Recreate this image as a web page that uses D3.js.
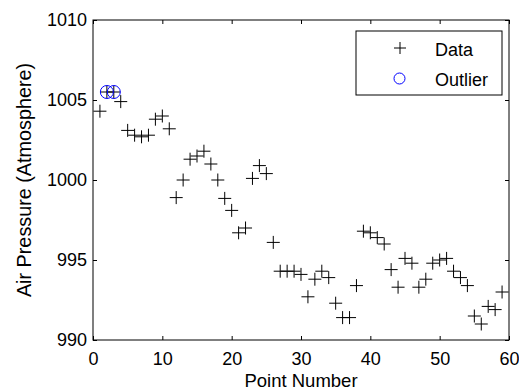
<!DOCTYPE html>
<html>
<head>
<meta charset="utf-8">
<script src="https://cdn.jsdelivr.net/npm/d3@7"></script>
<style>
  body { margin: 0; background: #fff; }
  svg { display: block; font-family: 'Liberation Sans', Arial, sans-serif; }
</style>
</head>
<body>
<svg id="chart"></svg>
<script>
// point numbers and readings
let pointNumbers = d3.range(1, 60)
let pressure = [
  1004.3, 1005.5, 1005.5, 1004.9, 1003.1, 1002.8, 1002.7, 1002.8, 1003.8, 1004.0,
  1003.2, 998.9, 1000.0, 1001.3, 1001.5, 1001.8, 1001.0, 1000.0, 998.85, 998.1,
  996.7, 997.0, 1000.1, 1000.9, 1000.4, 996.1, 994.3, 994.3, 994.3, 994.1,
  992.7, 993.8, 994.3, 993.9, 992.3, 991.4, 991.4, 993.4, 996.8, 996.7,
  996.4, 996.0, 994.4, 993.3, 995.1, 994.8, 993.3, 993.8, 994.8, 995.0,
  995.1, 994.3, 993.9, 993.4, 991.5, 991.0, 992.1, 991.9, 993.0
]
let outlierNumbers = [2, 3]
let outlierValues = [1005.5, 1005.5]
let xTicks = [0, 10, 20, 30, 40, 50, 60]
let yTicks = [990, 995, 1000, 1005, 1010]
let legendLabels = ['Data', 'Outlier']

let W = 519, H = 391
let margin = { top: 20, right: 10, bottom: 51, left: 93 }
let width = W - margin.left - margin.right
let height = H - margin.top - margin.bottom

let svg = d3.select('#chart').attr('width', W).attr('height', H)
let chart = svg.append('g')
  .attr('transform', 'translate(' + margin.left + ',' + margin.top + ')')

let x = d3.scaleLinear().domain([0, 60]).range([0, width])
let y = d3.scaleLinear().domain([990, 1010]).range([height, 0])
let fmt = d3.format('d')

// axes, ticks pointing inward like matlab
let tick = 4
chart.append('g').attr('class', 'axis')
  .attr('transform', 'translate(0,' + height + ')')
  .call(d3.axisBottom(x).tickValues(xTicks).tickSize(-tick).tickSizeOuter(0).tickPadding(12.5).tickFormat(fmt))
chart.append('g').attr('class', 'axis')
  .call(d3.axisTop(x).tickValues(xTicks).tickSize(-tick).tickSizeOuter(0).tickFormat(''))
chart.append('g').attr('class', 'axis')
  .call(d3.axisLeft(y).tickValues(yTicks).tickSize(-tick).tickSizeOuter(0).tickPadding(6).tickFormat(fmt))
chart.append('g').attr('class', 'axis')
  .attr('transform', 'translate(' + width + ',0)')
  .call(d3.axisRight(y).tickValues(yTicks).tickSize(-tick).tickSizeOuter(0).tickFormat(''))

chart.selectAll('.axis .domain').remove()
chart.selectAll('.axis text')
  .attr('font-family', "'Liberation Sans', Arial, sans-serif")
  .attr('font-size', '18px')
  .attr('fill', '#000')
chart.selectAll('.axis line').attr('stroke', '#000')

chart.append('rect')
  .attr('x', 0).attr('y', 0)
  .attr('width', width).attr('height', height)
  .attr('fill', 'none').attr('stroke', '#000').attr('stroke-width', 1)

// labels
svg.append('text')
  .attr('x', margin.left + width / 2)
  .attr('y', 386.5)
  .attr('text-anchor', 'middle')
  .attr('font-size', '18.5px')
  .text('Point Number')
svg.append('text')
  .attr('transform', 'translate(31,' + (margin.top + height / 2) + ') rotate(-90)')
  .attr('text-anchor', 'middle')
  .attr('font-size', '19.8px')
  .text('Air Pressure (Atmosphere)')

let plus = function (sel, s) {
  return sel.append('path')
    .attr('d', 'M' + (-s) + ',0H' + s + 'M0,' + (-s) + 'V' + s)
    .attr('stroke', '#000').attr('stroke-width', 1).attr('fill', 'none')
}

// data markers
let pts = chart.append('g')
pointNumbers.forEach(function (n, i) {
  let g = pts.append('g')
    .attr('transform', 'translate(' + x(n) + ',' + y(pressure[i]) + ')')
  plus(g, 6.5)
})

chart.append('g').selectAll('circle')
  .data(outlierNumbers)
  .enter()
  .append('circle')
  .attr('cx', d => x(d))
  .attr('cy', (d, i) => y(outlierValues[i]))
  .attr('r', 6.5)
  .attr('fill', 'none')
  .attr('stroke', '#0000ff')
  .attr('stroke-width', 1)

// legend
let legend = svg.append('g').attr('transform', 'translate(356,31)')
legend.append('rect')
  .attr('width', 146).attr('height', 64)
  .attr('fill', '#fff').attr('stroke', '#000').attr('stroke-width', 1)
plus(legend.append('g').attr('transform', 'translate(44,17)'), 6)
legend.append('circle')
  .attr('cx', 43.5).attr('cy', 47.5).attr('r', 5.5)
  .attr('fill', 'none').attr('stroke', '#0000ff')
legend.selectAll('.lbl')
  .data(legendLabels)
  .enter()
  .append('text')
  .attr('class', 'lbl')
  .attr('x', 79)
  .attr('y', (d, i) => 24.5 + i * 30)
  .attr('font-size', '18px')
  .text(d => d)
</script>
</body>
</html>
